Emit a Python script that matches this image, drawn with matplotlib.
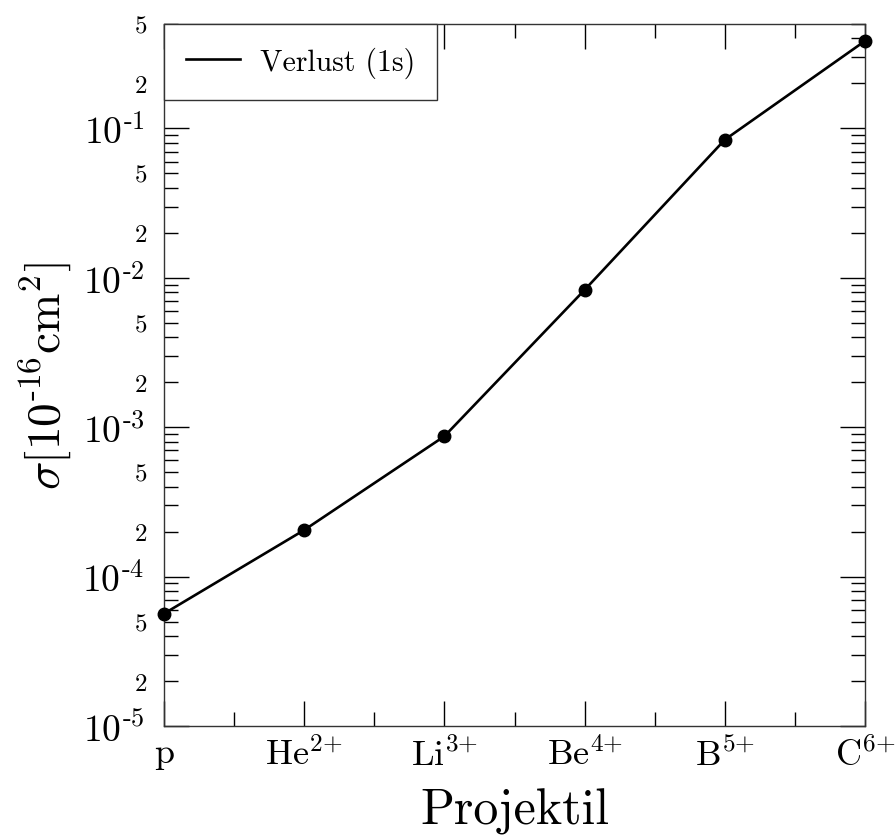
import numpy as np
import matplotlib
matplotlib.use("Agg")
import matplotlib.pyplot as plt
from matplotlib.ticker import FixedLocator, FixedFormatter

plt.rcParams['font.family'] = 'serif'
plt.rcParams['font.serif'] = ['cmr10', 'DejaVu Serif']
plt.rcParams['mathtext.fontset'] = 'cm'
plt.rcParams['axes.unicode_minus'] = False

categories = ['p', r'He$^{2{+}}$', r'Li$^{3{+}}$', r'Be$^{4{+}}$', r'B$^{5{+}}$', r'C$^{6{+}}$']
sigma = [5.65e-5, 2.05e-4, 8.7e-4, 8.3e-3, 0.084, 0.385]
series_label = 'Verlust (1s)'

fig = plt.figure(figsize=(8.96, 8.37), dpi=100)
ax = fig.add_axes([164/896, 1-727/837, (865-164)/896, (727-25)/837])

x = np.arange(len(categories))
ax.plot(x, sigma, color='black', lw=1.9, zorder=5, clip_on=False)
ax.plot(x, sigma, color='black', lw=0, marker='o', ms=9, zorder=6, clip_on=False)
ax.plot([], [], color='black', lw=1.9, label=series_label)

ax.set_yscale('log')
ax.set_ylim(1e-5, 0.5)
ax.set_xlim(0, len(categories)-1)

# y ticks
major = [1e-5, 1e-4, 1e-3, 1e-2, 1e-1]
major_labels = [r'$10^{\text{-}5}$', r'$10^{\text{-}4}$', r'$10^{\text{-}3}$', r'$10^{\text{-}2}$', r'$10^{\text{-}1}$']
ax.yaxis.set_major_locator(FixedLocator(major))
ax.yaxis.set_major_formatter(FixedFormatter(major_labels))
minor = []
minor_labels = []
for e in range(-5, 0):
    for m in range(2, 10):
        v = m * 10.0**e
        if v <= 0.5 + 1e-12:
            minor.append(v)
            minor_labels.append(str(m) if m in (2, 5) else '')
ax.yaxis.set_minor_locator(FixedLocator(minor))
ax.yaxis.set_minor_formatter(FixedFormatter(minor_labels))

ax.set_xticks(x)
ax.set_xticklabels(categories)
ax.set_xticks(x[:-1] + 0.5, minor=True)

ax.tick_params(axis='both', which='both', direction='in', top=True, right=True)
ax.tick_params(axis='y', which='major', length=18, width=1, labelsize=27, pad=14)
ax.tick_params(axis='y', which='minor', length=10, width=1, labelsize=18, pad=12)
ax.tick_params(axis='x', which='major', length=18, width=1, labelsize=26, pad=8)
ax.tick_params(axis='x', which='minor', length=10, width=1)

for s in ax.spines.values():
    s.set_linewidth(1.0)
    s.set_color('#333333')

ax.set_xlabel('Projektil', fontsize=36, labelpad=11)
ax.set_ylabel(r'$\sigma[10^{\text{-}16}\mathrm{cm}^2]$', fontsize=34, labelpad=6)

leg = ax.legend(loc='upper left', borderaxespad=0, fancybox=False, framealpha=1,
                edgecolor='#333333', fontsize=21.5, handlelength=1.8, borderpad=0.75,
                handletextpad=0.65)
leg.get_frame().set_linewidth(1.0)

fig.savefig('out.png', dpi=100)
